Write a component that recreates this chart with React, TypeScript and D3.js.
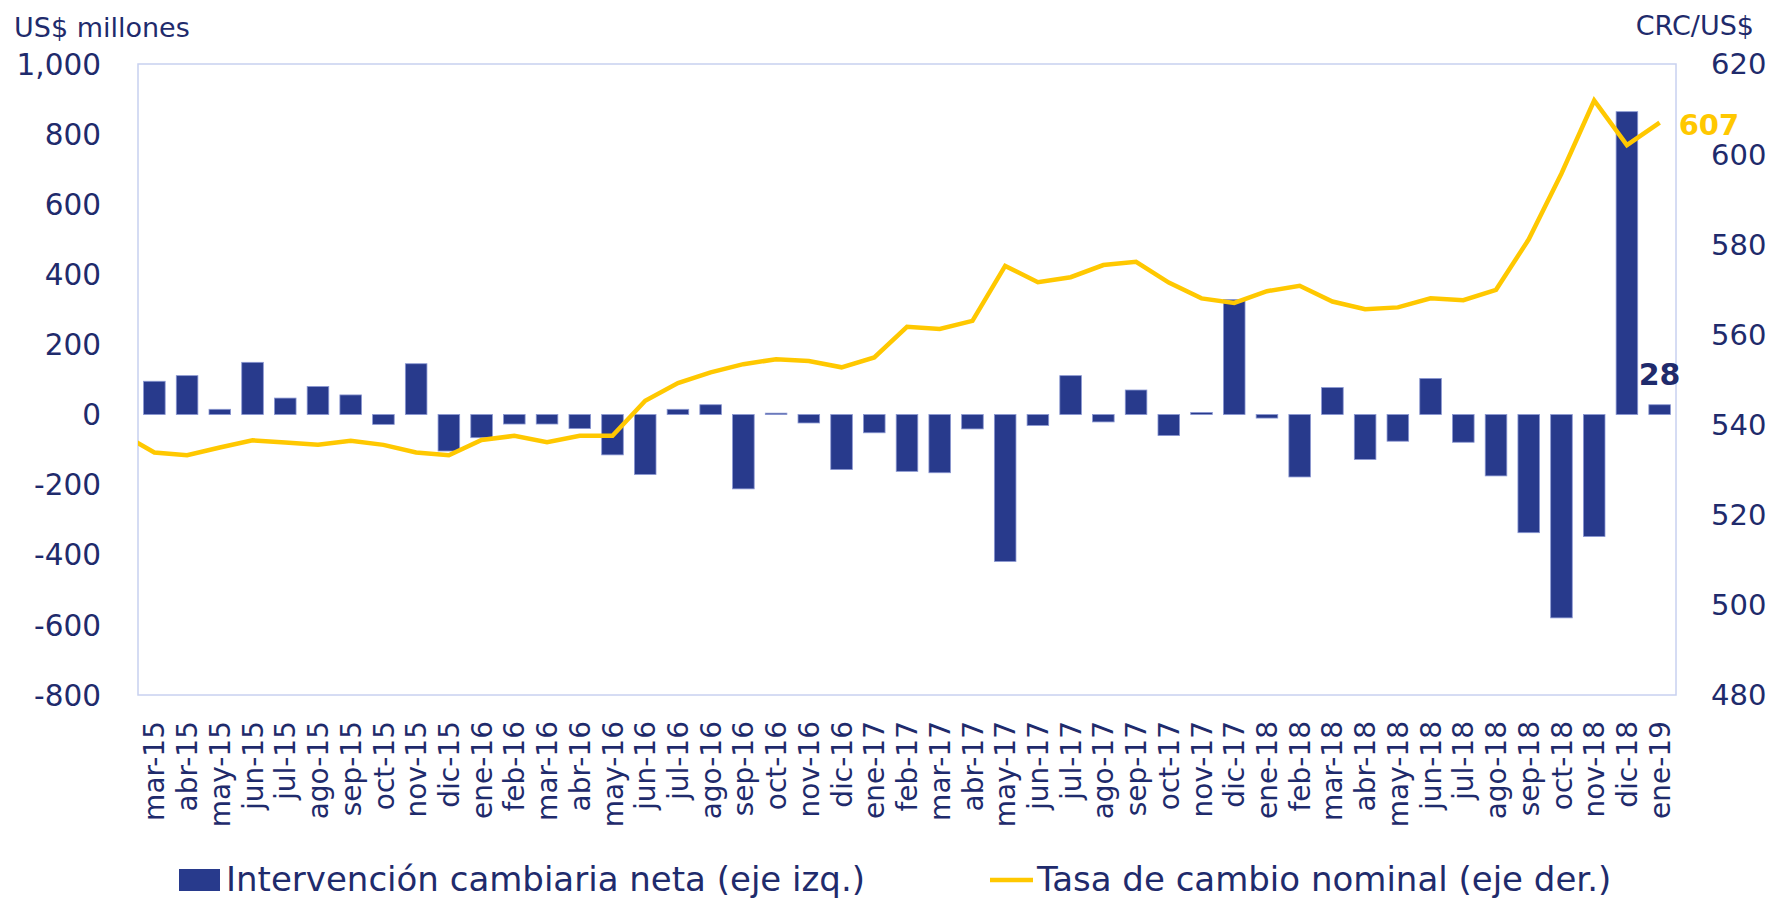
import React from 'react';
import * as d3 from 'd3';

const MONTHS = [
  'mar-15', 'abr-15', 'may-15', 'jun-15', 'jul-15', 'ago-15', 'sep-15', 'oct-15', 'nov-15', 'dic-15',
  'ene-16', 'feb-16', 'mar-16', 'abr-16', 'may-16', 'jun-16', 'jul-16', 'ago-16', 'sep-16', 'oct-16', 'nov-16', 'dic-16',
  'ene-17', 'feb-17', 'mar-17', 'abr-17', 'may-17', 'jun-17', 'jul-17', 'ago-17', 'sep-17', 'oct-17', 'nov-17', 'dic-17',
  'ene-18', 'feb-18', 'mar-18', 'abr-18', 'may-18', 'jun-18', 'jul-18', 'ago-18', 'sep-18', 'oct-18', 'nov-18', 'dic-18',
  'ene-19',
];

// Intervención cambiaria neta, US$ millones (eje izq.)
const INTERVENCION = [
  95, 111, 15, 149, 47, 80, 56, -28, 145, -104,
  -66, -27, -27, -40, -115, -171, 15, 28, -212, 4, -24, -157,
  -52, -162, -166, -41, -419, -31, 111, -21, 70, -60, 6, 328,
  -10, -178, 77, -128, -76, 103, -79, -175, -337, -580, -348, 864,
  28,
];

// Tasa de cambio nominal, CRC/US$ (eje der.)
const TASA_FEB15 = 538; // punto previo, queda recortado en el borde
const TASA = [
  533.8, 533.2, 534.9, 536.5, 536.0, 535.5, 536.4, 535.5, 533.8, 533.2,
  536.6, 537.5, 536.1, 537.5, 537.5, 545.3, 549.2, 551.6, 553.4, 554.5, 554.1, 552.7,
  554.9, 561.7, 561.2, 563.0, 575.2, 571.6, 572.7, 575.4, 576.1, 571.5, 568.0, 567.0,
  569.6, 570.8, 567.3, 565.6, 566.0, 568.0, 567.6, 569.9, 581.1, 595.7, 611.9, 602.0,
  607.0,
];

const LEFT_TICKS = [-800, -600, -400, -200, 0, 200, 400, 600, 800, 1000];
const RIGHT_TICKS = [480, 500, 520, 540, 560, 580, 600, 620];

const W = 1773;
const H = 899;
const plot = { left: 138, right: 1676, top: 64, bottom: 695 };

const NAVY = '#1F2B6C';
const BAR = '#283A8C';
const GOLD = '#FFC800';
const FONT = '"DejaVu Sans", sans-serif';

// Excel-style: comma thousands, plain hyphen for negatives
const fmt = (v: number) => d3.format(',')(v).replace('\u2212', '-');

export default function App() {
  const x = d3.scaleBand<string>()
    .domain(MONTHS)
    .range([plot.left, plot.right])
    .paddingInner(0.34)
    .paddingOuter(0.17);
  const step = x.step();
  const cx = (m: string) => (x(m) as number) + x.bandwidth() / 2;

  const yL = d3.scaleLinear().domain([-800, 1000]).range([plot.bottom, plot.top]);
  const yR = d3.scaleLinear().domain([480, 620]).range([plot.bottom, plot.top]);

  const pts: [number, number][] = [[cx(MONTHS[0]) - step, yR(TASA_FEB15)]];
  MONTHS.forEach((m, i) => pts.push([cx(m), yR(TASA[i])]));
  const line = d3.line();

  const last = MONTHS[MONTHS.length - 1];
  const lastBar = INTERVENCION[INTERVENCION.length - 1];
  const lastRate = TASA[TASA.length - 1];

  return (
    <svg width={W} height={H} style={{ position: 'absolute', left: 0, top: 0, background: '#fff' }} fontFamily={FONT}>
      <defs>
        <clipPath id="plotClip">
          <rect x={plot.left} y={plot.top} width={plot.right - plot.left} height={plot.bottom - plot.top} />
        </clipPath>
      </defs>

      {/* axis titles */}
      <text x={14} y={36.5} fontSize={27} fill={NAVY}>US$ millones</text>
      <text x={1754} y={34.5} fontSize={27} fill={NAVY} textAnchor="end">CRC/US$</text>

      {/* plot frame */}
      <rect x={plot.left} y={plot.top} width={plot.right - plot.left} height={plot.bottom - plot.top}
        fill="none" stroke="#C8D1F0" strokeWidth={1.5} />

      {/* left ticks */}
      {LEFT_TICKS.map(t => (
        <text key={t} x={101} y={yL(t)} dy="0.36em" fontSize={29.5} fill={NAVY} textAnchor="end">
          {fmt(t)}
        </text>
      ))}

      {/* right ticks */}
      {RIGHT_TICKS.map(t => (
        <text key={t} x={1711} y={yR(t)} dy="0.36em" fontSize={29} fill={NAVY}>{t}</text>
      ))}

      {/* bars */}
      {MONTHS.map((m, i) => {
        const v = INTERVENCION[i];
        return (
          <rect key={m} x={x(m)} width={x.bandwidth()}
            y={yL(Math.max(0, v))} height={Math.abs(yL(v) - yL(0))}
            fill={BAR} stroke="#8A97D2" strokeWidth={0.8} />
        );
      })}

      {/* line */}
      <path d={line(pts) as string} clipPath="url(#plotClip)" fill="none" stroke={GOLD}
        strokeWidth={4.5} strokeLinejoin="miter" />

      {/* data labels */}
      <text x={cx(last)} y={yL(lastBar) - 20} fontSize={30} fontWeight="bold" fill={NAVY} textAnchor="middle">
        {lastBar}
      </text>
      <text x={cx(last) + 19} y={yR(lastRate) + 12} fontSize={29} fontWeight="bold" fill={GOLD}>
        {Math.round(lastRate)}
      </text>

      {/* x labels */}
      {MONTHS.map(m => (
        <text key={m} transform={`translate(${cx(m)},721) rotate(-90)`} dy="0.36em"
          fontSize={28} fill={NAVY} textAnchor="end">{m}</text>
      ))}

      {/* legend */}
      <rect x={179} y={869} width={41} height={22} fill={BAR} />
      <text x={226} y={890.5} fontSize={34} fill={NAVY}>Intervención cambiaria neta (eje izq.)</text>
      <line x1={990} x2={1033} y1={880} y2={880} stroke={GOLD} strokeWidth={4.5} />
      <text x={1037} y={890.5} fontSize={34} fill={NAVY}>Tasa de cambio nominal (eje der.)</text>
    </svg>
  );
}
